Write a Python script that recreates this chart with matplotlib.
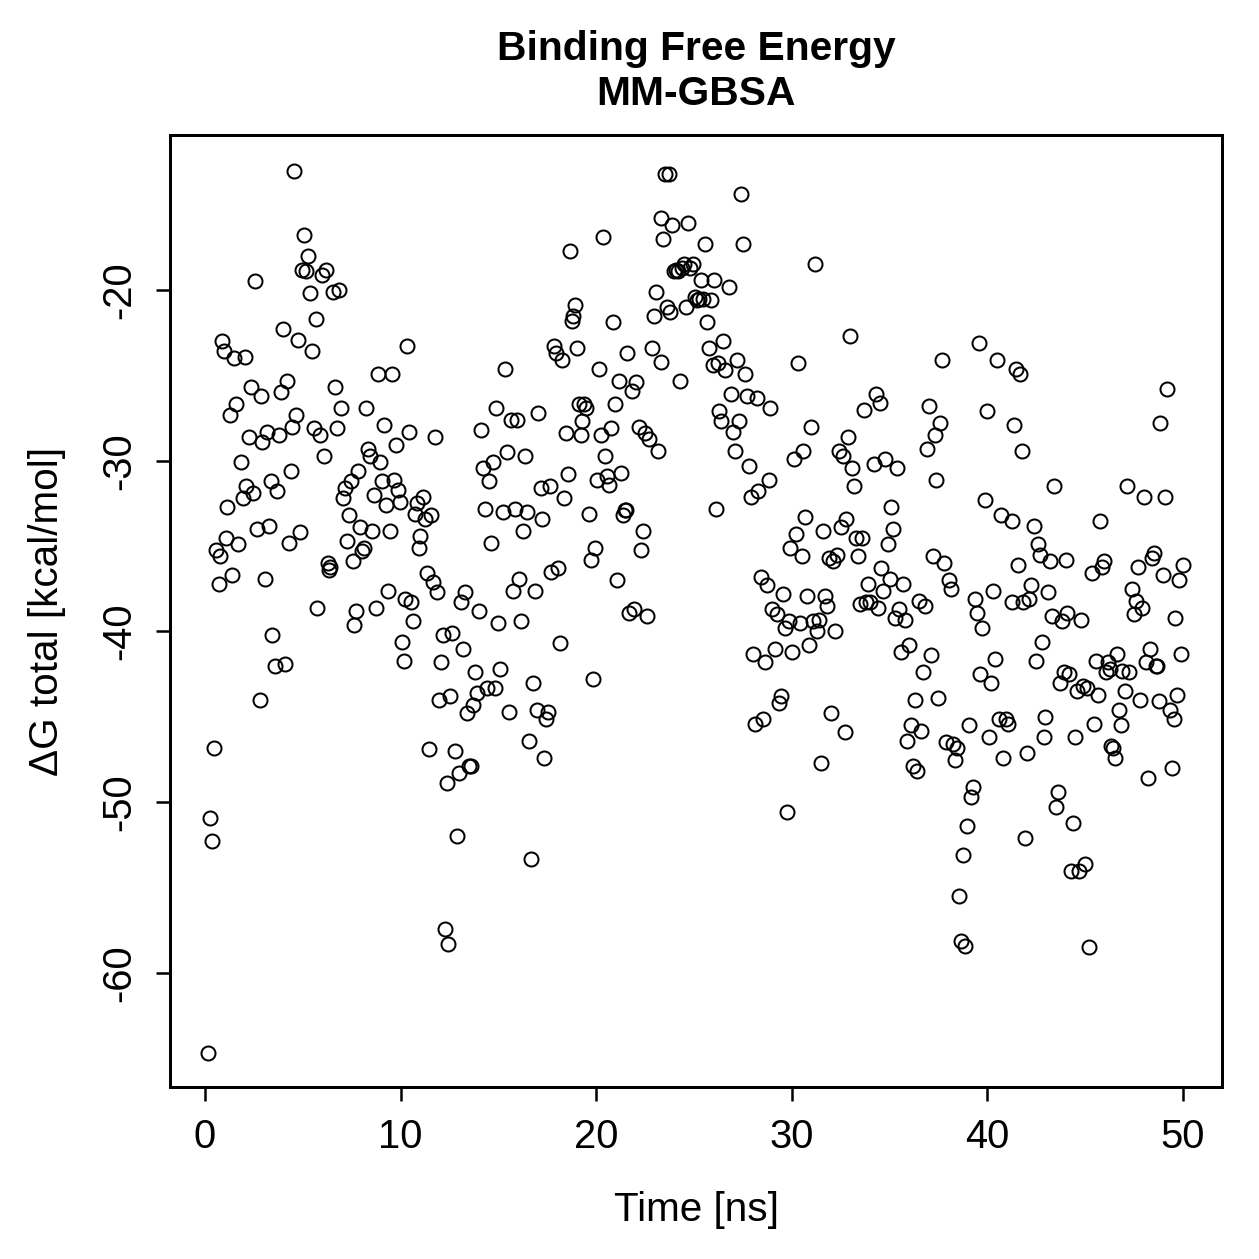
import matplotlib
matplotlib.use("Agg")
import matplotlib.pyplot as plt

plt.rcParams['font.family'] = ['Liberation Sans', 'DejaVu Sans']
plt.rcParams['axes.unicode_minus'] = False

# time [ns] and binding free energy [kcal/mol]
time_ns = [
    0.15, 0.25, 0.35, 0.45, 0.55, 0.7, 0.75, 0.85, 0.95, 1.05, 1.15, 1.3, 1.4, 1.5, 1.6, 1.7, 1.85, 1.95, 2.05, 2.1,
    2.25, 2.35, 2.45, 2.55, 2.65, 2.8, 2.85, 2.9, 3.05, 3.15, 3.25, 3.35, 3.45, 3.6, 3.7, 3.8, 3.9, 4.0, 4.1, 4.2,
    4.3, 4.4, 4.45, 4.55, 4.65, 4.75, 4.85, 4.95, 5.05, 5.15, 5.25, 5.35, 5.45, 5.55, 5.65, 5.75, 5.9, 6.0, 6.1, 6.2,
    6.3, 6.35, 6.4, 6.55, 6.65, 6.75, 6.85, 6.95, 7.05, 7.15, 7.25, 7.35, 7.45, 7.55, 7.6, 7.7, 7.8, 7.95, 8.05, 8.15,
    8.25, 8.35, 8.45, 8.55, 8.65, 8.75, 8.85, 8.95, 9.05, 9.15, 9.25, 9.35, 9.45, 9.55, 9.65, 9.75, 9.85, 9.95, 10.05, 10.15,
    10.25, 10.35, 10.45, 10.55, 10.65, 10.75, 10.85, 10.95, 11.0, 11.15, 11.25, 11.35, 11.45, 11.55, 11.65, 11.75, 11.85, 11.95, 12.05, 12.15,
    12.25, 12.35, 12.45, 12.55, 12.65, 12.8, 12.9, 13.0, 13.1, 13.2, 13.3, 13.4, 13.5, 13.6, 13.7, 13.8, 13.9, 14.0, 14.1, 14.2,
    14.3, 14.4, 14.5, 14.6, 14.75, 14.85, 14.9, 15.0, 15.1, 15.25, 15.35, 15.45, 15.55, 15.65, 15.75, 15.85, 15.95, 16.05, 16.15, 16.25,
    16.35, 16.45, 16.55, 16.65, 16.75, 16.85, 16.95, 17.05, 17.2, 17.25, 17.35, 17.45, 17.55, 17.65, 17.7, 17.85, 17.95, 18.05, 18.15, 18.25,
    18.35, 18.45, 18.55, 18.65, 18.75, 18.8, 18.9, 19.0, 19.1, 19.2, 19.3, 19.4, 19.5, 19.65, 19.75, 19.85, 19.95, 20.05, 20.15, 20.25,
    20.35, 20.45, 20.55, 20.65, 20.75, 20.85, 20.95, 21.05, 21.15, 21.25, 21.35, 21.45, 21.55, 21.6, 21.7, 21.85, 21.95, 22.05, 22.2, 22.3,
    22.4, 22.5, 22.6, 22.7, 22.85, 22.95, 23.05, 23.15, 23.3, 23.3, 23.4, 23.5, 23.6, 23.7, 23.8, 23.9, 24.0, 24.1, 24.2, 24.3,
    24.4, 24.5, 24.6, 24.7, 24.8, 24.95, 25.05, 25.15, 25.25, 25.35, 25.45, 25.55, 25.65, 25.75, 25.85, 25.95, 26.05, 26.15, 26.25, 26.3,
    26.4, 26.5, 26.6, 26.8, 26.9, 27.0, 27.1, 27.2, 27.3, 27.4, 27.5, 27.6, 27.7, 27.8, 27.9, 28.0, 28.1, 28.2, 28.3, 28.45,
    28.55, 28.65, 28.75, 28.85, 28.9, 29.0, 29.15, 29.25, 29.35, 29.45, 29.55, 29.65, 29.75, 29.85, 29.9, 30.0, 30.1, 30.2, 30.3, 30.4,
    30.5, 30.6, 30.7, 30.8, 30.9, 31.0, 31.1, 31.2, 31.3, 31.4, 31.5, 31.6, 31.7, 31.8, 31.9, 32.0, 32.1, 32.2, 32.3, 32.4,
    32.5, 32.6, 32.7, 32.8, 32.9, 33.0, 33.1, 33.2, 33.3, 33.4, 33.5, 33.6, 33.7, 33.8, 33.9, 34.0, 34.2, 34.3, 34.4, 34.5,
    34.55, 34.65, 34.75, 34.9, 35.0, 35.1, 35.2, 35.3, 35.4, 35.5, 35.6, 35.7, 35.8, 35.9, 36.0, 36.1, 36.2, 36.3, 36.4, 36.5,
    36.6, 36.7, 36.8, 36.9, 37.0, 37.1, 37.2, 37.3, 37.4, 37.5, 37.6, 37.7, 37.8, 37.9, 38.05, 38.15, 38.25, 38.35, 38.45, 38.55,
    38.65, 38.75, 38.85, 38.95, 39.05, 39.15, 39.25, 39.35, 39.45, 39.55, 39.65, 39.75, 39.9, 40.0, 40.1, 40.2, 40.3, 40.4, 40.5, 40.6,
    40.7, 40.8, 40.95, 41.05, 41.25, 41.25, 41.35, 41.45, 41.55, 41.65, 41.75, 41.85, 41.95, 42.05, 42.15, 42.25, 42.4, 42.5, 42.6, 42.7,
    42.8, 42.9, 42.95, 43.1, 43.2, 43.3, 43.4, 43.5, 43.6, 43.7, 43.8, 43.9, 44.0, 44.1, 44.2, 44.3, 44.4, 44.5, 44.6, 44.7,
    44.8, 44.9, 45.0, 45.1, 45.2, 45.35, 45.45, 45.55, 45.65, 45.75, 45.85, 45.95, 46.05, 46.15, 46.25, 46.35, 46.45, 46.55, 46.65, 46.75,
    46.85, 46.9, 47.05, 47.15, 47.25, 47.4, 47.5, 47.6, 47.7, 47.8, 47.9, 48.0, 48.1, 48.2, 48.3, 48.4, 48.5, 48.6, 48.7, 48.8,
    48.85, 49.0, 49.1, 49.2, 49.35, 49.45, 49.55, 49.6, 49.7, 49.8, 49.9, 50.0,
]

dg_total = [
    -64.7, -50.9, -52.3, -46.8, -35.2, -37.2, -35.6, -23.0, -23.6, -34.5, -32.7, -27.3, -36.7, -24.0, -26.7, -34.9, -30.1, -32.2, -23.9, -31.5,
    -28.6, -25.7, -31.9, -19.5, -34.0, -44.0, -26.2, -28.9, -36.9, -28.3, -33.8, -31.2, -40.2, -42.0, -31.8, -28.5, -26.0, -22.3, -41.9, -25.3,
    -34.8, -30.6, -28.0, -13.0, -27.3, -22.9, -34.2, -18.8, -16.8, -18.9, -18.0, -20.2, -23.6, -28.1, -21.7, -38.6, -28.5, -19.1, -29.7, -18.8,
    -36.0, -36.4, -36.2, -20.1, -25.7, -28.1, -20.0, -26.9, -32.2, -31.6, -34.7, -33.2, -31.2, -35.9, -39.6, -38.8, -30.6, -33.9, -35.3, -35.1,
    -26.9, -29.3, -29.7, -34.1, -32.0, -38.6, -24.9, -30.1, -31.2, -27.9, -32.6, -37.6, -34.1, -24.9, -31.1, -29.1, -31.7, -32.4, -40.6, -41.7,
    -38.1, -23.3, -28.3, -38.3, -39.4, -33.1, -32.5, -35.1, -34.4, -32.1, -33.4, -36.6, -46.9, -33.2, -37.1, -28.6, -37.7, -44.0, -41.8, -40.2,
    -57.4, -48.9, -58.3, -43.8, -40.1, -47.0, -52.0, -48.3, -38.3, -41.0, -37.7, -44.8, -47.9, -47.9, -44.3, -42.4, -43.6, -38.8, -28.2, -30.4,
    -32.8, -43.3, -31.2, -34.8, -30.1, -43.3, -26.9, -39.5, -42.2, -33.0, -24.6, -29.5, -44.7, -27.6, -37.6, -32.8, -27.6, -36.9, -39.4, -34.1,
    -29.7, -33.0, -46.4, -53.3, -43.0, -37.6, -44.6, -27.2, -31.6, -33.4, -47.4, -45.1, -44.7, -31.5, -36.5, -23.3, -23.7, -36.3, -40.7, -24.1,
    -32.2, -28.4, -30.8, -17.7, -21.8, -21.5, -20.9, -23.4, -26.7, -28.5, -27.7, -26.7, -26.9, -33.1, -35.8, -42.8, -35.1, -31.1, -24.6, -28.5,
    -16.9, -29.7, -30.9, -31.4, -28.1, -21.9, -26.7, -37.0, -25.3, -30.7, -33.2, -32.9, -32.9, -23.7, -38.9, -25.9, -38.7, -25.4, -28.0, -35.2,
    -34.1, -28.4, -39.1, -28.7, -23.4, -21.5, -20.1, -29.4, -24.2, -15.8, -17.0, -13.2, -21.0, -13.2, -21.3, -16.2, -18.9, -18.8, -18.9, -25.3,
    -18.7, -18.5, -21.0, -16.1, -18.7, -18.5, -20.4, -20.6, -20.5, -19.4, -20.5, -17.3, -21.9, -23.4, -20.6, -24.4, -19.4, -32.8, -24.3, -27.1,
    -27.7, -23.0, -24.7, -19.8, -26.1, -28.3, -29.4, -24.1, -27.7, -14.4, -17.3, -24.9, -26.2, -30.3, -32.1, -41.3, -45.4, -26.3, -31.8, -36.8,
    -45.1, -41.8, -37.3, -31.1, -26.9, -38.7, -41.0, -39.0, -44.2, -43.8, -37.8, -39.8, -50.6, -39.4, -35.1, -41.2, -29.9, -34.3, -24.3, -39.5,
    -35.6, -29.4, -33.3, -37.9, -40.8, -28.0, -39.4, -18.5, -40.0, -39.3, -47.7, -34.1, -37.9, -38.5, -35.7, -44.8, -35.9, -40.0, -35.5, -29.4,
    -33.9, -29.7, -45.9, -33.4, -28.6, -22.7, -30.4, -31.5, -34.5, -35.6, -38.4, -34.5, -27.0, -38.3, -37.2, -38.3, -30.2, -26.1, -38.6, -26.6,
    -36.3, -37.6, -29.9, -34.9, -36.9, -32.7, -34.0, -39.2, -30.4, -38.7, -41.2, -37.2, -39.3, -46.4, -40.8, -45.5, -47.9, -44.0, -48.2, -38.2,
    -45.8, -42.4, -38.5, -29.3, -26.8, -41.4, -35.6, -28.5, -31.1, -43.9, -27.8, -24.1, -36.0, -46.5, -37.0, -37.5, -46.6, -47.5, -46.8, -55.5,
    -58.1, -53.1, -58.4, -51.4, -45.5, -49.7, -49.1, -38.1, -38.9, -23.1, -42.5, -39.8, -32.3, -27.1, -46.2, -43.0, -37.6, -41.6, -24.1, -45.1,
    -33.2, -47.4, -45.1, -45.4, -33.5, -38.3, -27.9, -24.6, -36.1, -24.9, -29.4, -38.3, -52.1, -47.1, -38.1, -37.3, -33.8, -41.7, -34.9, -35.5,
    -40.6, -46.2, -45.0, -37.7, -35.9, -39.1, -31.5, -50.3, -49.4, -43.0, -39.4, -42.4, -35.8, -38.9, -42.5, -54.0, -51.2, -46.2, -43.5, -54.0,
    -39.3, -43.2, -53.6, -43.3, -58.5, -36.6, -45.4, -41.7, -43.7, -33.5, -36.2, -35.9, -42.4, -41.8, -42.2, -46.7, -46.8, -47.4, -41.3, -44.6,
    -45.5, -42.3, -43.5, -31.5, -42.4, -37.5, -39.0, -38.2, -36.2, -44.0, -38.6, -32.1, -41.8, -48.6, -41.0, -35.7, -35.4, -42.0, -42.0, -44.1,
    -27.8, -36.7, -32.1, -25.8, -44.6, -48.0, -45.1, -39.2, -43.7, -37.0, -41.3, -36.1,
]

W = 1259 / 180
fig = plt.figure(figsize=(W, W), dpi=180)
ax = fig.add_axes([170 / 1259, 1 - 1087 / 1259, (1222 - 170) / 1259, (1087 - 135) / 1259])

ax.plot(time_ns, dg_total, linestyle='none', marker='o', ms=5.6, mfc='none',
        mec='black', mew=0.8)

ax.set_xlim(-1.79, 52.0)
ax.set_ylim(-66.68, -10.92)
ax.set_xticks([0, 10, 20, 30, 40, 50])
ax.set_yticks([-20, -30, -40, -50, -60])
for s in ax.spines.values():
    s.set_linewidth(1.2)
ax.tick_params(axis='both', labelsize=16, length=5.5, width=1.0)
ax.tick_params(axis='x', pad=7)
ax.tick_params(axis='y', pad=7)
for lab in ax.get_yticklabels():
    lab.set_rotation(90)
    lab.set_va('center')

ax.set_xlabel('Time [ns]', fontsize=16.2, labelpad=14)
ax.set_ylabel('ΔG total [kcal/mol]', fontsize=16.2, labelpad=14)
ax.set_title('Binding Free Energy\nMM-GBSA', fontsize=16.3, fontweight='bold',
             pad=12, linespacing=1.25)

fig.savefig('out.png', dpi=180)
